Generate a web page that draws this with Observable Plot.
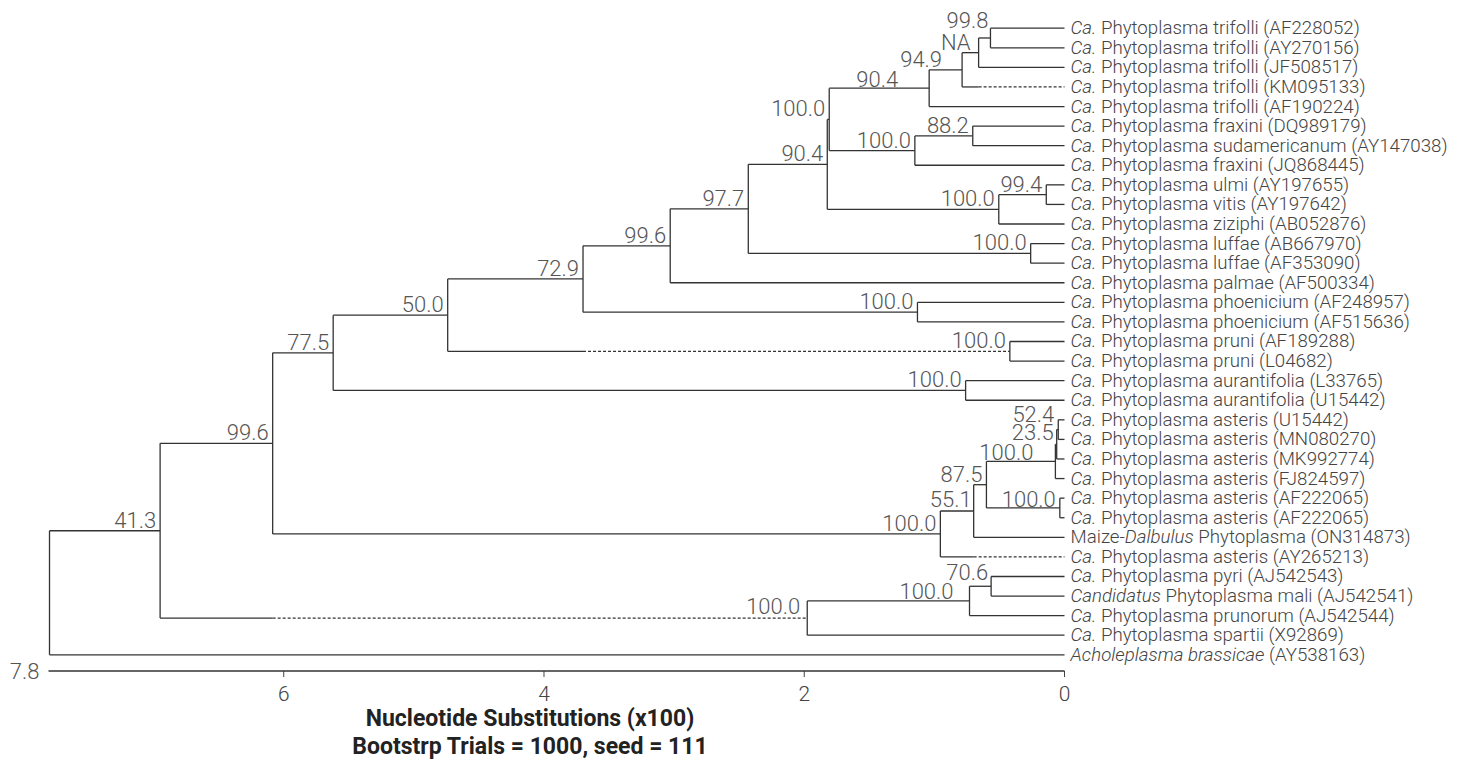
<!DOCTYPE html>
<html><head><meta charset="utf-8">
<script src="https://cdn.jsdelivr.net/npm/d3@7"></script>
<script src="https://cdn.jsdelivr.net/npm/@observablehq/plot@0.6"></script>
<style>
body{margin:0;background:#fff;font-family:Roboto, sans-serif;}
#title{width:1060px;text-align:center;font-family:Roboto, sans-serif;font-weight:bold;font-size:23px;line-height:28px;color:#222;}
</style></head><body>
<div id="chart"></div>
<div id="title">Nucleotide Substitutions (x100)<br>Bootstrp Trials = 1000, seed = 111</div>
<script>
// Leaf labels, top to bottom (_..._ marks italic text)
const leaves = [
  "_Ca._ Phytoplasma trifolli (AF228052)",
  "_Ca._ Phytoplasma trifolli (AY270156)",
  "_Ca._ Phytoplasma trifolli (JF508517)",
  "_Ca._ Phytoplasma trifolli (KM095133)",
  "_Ca._ Phytoplasma trifolli (AF190224)",
  "_Ca._ Phytoplasma fraxini (DQ989179)",
  "_Ca._ Phytoplasma sudamericanum (AY147038)",
  "_Ca._ Phytoplasma fraxini (JQ868445)",
  "_Ca._ Phytoplasma ulmi (AY197655)",
  "_Ca._ Phytoplasma vitis (AY197642)",
  "_Ca._ Phytoplasma ziziphi (AB052876)",
  "_Ca._ Phytoplasma luffae (AB667970)",
  "_Ca._ Phytoplasma luffae (AF353090)",
  "_Ca._ Phytoplasma palmae (AF500334)",
  "_Ca._ Phytoplasma phoenicium (AF248957)",
  "_Ca._ Phytoplasma phoenicium (AF515636)",
  "_Ca._ Phytoplasma pruni (AF189288)",
  "_Ca._ Phytoplasma pruni (L04682)",
  "_Ca._ Phytoplasma aurantifolia (L33765)",
  "_Ca._ Phytoplasma aurantifolia (U15442)",
  "_Ca._ Phytoplasma asteris (U15442)",
  "_Ca._ Phytoplasma asteris (MN080270)",
  "_Ca._ Phytoplasma asteris (MK992774)",
  "_Ca._ Phytoplasma asteris (FJ824597)",
  "_Ca._ Phytoplasma asteris (AF222065)",
  "_Ca._ Phytoplasma asteris (AF222065)",
  "Maize-_Dalbulus_ Phytoplasma (ON314873)",
  "_Ca._ Phytoplasma asteris (AY265213)",
  "_Ca._ Phytoplasma pyri (AJ542543)",
  "_Candidatus_ Phytoplasma mali (AJ542541)",
  "_Ca._ Phytoplasma prunorum (AJ542544)",
  "_Ca._ Phytoplasma spartii (X92869)",
  "_Acholeplasma brassicae_ (AY538163)"
];

// Internal nodes: height (substitutions x100), bootstrap support, children (number = leaf index, string = node id)
const nodes = [
  {id:"root", h:7.80,  support:null,    children:["A", 32]},
  {id:"A",    h:6.95,  support:"41.3",  children:["B", "P"]},
  {id:"B",    h:6.085, support:"99.6",  children:["C", "D"]},
  {id:"C",    h:5.62,  support:"77.5",  children:["E", "X"]},
  {id:"E",    h:4.74,  support:"50.0",  children:["F", "W"]},
  {id:"F",    h:3.70,  support:"72.9",  children:["G", "V"]},
  {id:"G",    h:3.03,  support:"99.6",  children:["H", 13]},
  {id:"H",    h:2.43,  support:"97.7",  children:["I", "U"]},
  {id:"I",    h:1.823, support:"90.4",  children:["J", "S"]},
  {id:"J",    h:1.808, support:"100.0", children:["K", "O"]},
  {id:"K",    h:1.04,  support:"90.4",  children:["L", 4]},
  {id:"L",    h:0.787, support:"94.9",  children:["M", 3]},
  {id:"M",    h:0.66,  support:"NA",    children:["N", 2]},
  {id:"N",    h:0.569, support:"99.8",  children:[0, 1]},
  {id:"O",    h:1.15,  support:"100.0", children:["O2", 7]},
  {id:"O2",   h:0.705, support:"88.2",  children:[5, 6]},
  {id:"S",    h:0.505, support:"100.0", children:["T", 10]},
  {id:"T",    h:0.14,  support:"99.4",  children:[8, 9]},
  {id:"U",    h:0.26,  support:"100.0", children:[11, 12]},
  {id:"V",    h:1.13,  support:"100.0", children:[14, 15]},
  {id:"W",    h:0.42,  support:"100.0", children:[16, 17]},
  {id:"X",    h:0.76,  support:"100.0", children:[18, 19]},
  {id:"D",    h:0.954, support:"100.0", children:["Y", 27]},
  {id:"Y",    h:0.698, support:"55.1",  children:["Z", 26]},
  {id:"Z",    h:0.60,  support:"87.5",  children:["AA", "BB"]},
  {id:"AA",   h:0.07,  support:"100.0", children:["AB", 23]},
  {id:"AB",   h:0.06,  support:"23.5",  children:["AC", 22]},
  {id:"AC",   h:0.048, support:"52.4",  children:[20, 21]},
  {id:"BB",   h:0.036, support:"100.0", children:[24, 25]},
  {id:"P",    h:1.977, support:"100.0", children:["Q", 31]},
  {id:"Q",    h:0.73,  support:"100.0", children:["R", 30]},
  {id:"R",    h:0.564, support:"70.6",  children:[28, 29]}
];

// Branches drawn solid up to solidTo, then dotted to the child
const dotted = [
  {child:3,   solidTo:0.66},
  {child:"W", solidTo:3.70},
  {child:27,  solidTo:0.698},
  {child:"P", solidTo:6.085}
];

const axisTicks = [0, 2, 4, 6];

// label placement (styling): default offset and per-node nudges as in the reference
const labelDefault = {dx:-4, dy:-3};
const labelNudge = {
  N:{dx:-2, dy:-10}, M:{dx:-8, dy:-3}, L:{dx:-20, dy:-3}, K:{dx:-31, dy:-1},
  AC:{dx:-4, dy:-8}, AB:{dx:-3, dy:-4}, AA:{dx:-22, dy:-1}, BB:{dx:-4, dy:-1},
  Q:{dx:-16, dy:-2}, R:{dx:-3, dy:-6}, Y:{dx:-2, dy:-4}, P:{dx:-7, dy:-4}
};

// layout
const byId = new Map(nodes.map(n => [n.id, n]));
function yOf(c) {
  if (typeof c === "number") return c;
  const n = byId.get(c);
  if (n.y == null) n.y = d3.mean(n.children, yOf);
  return n.y;
}
const hOf = c => typeof c === "number" ? 0 : byId.get(c).h;
const solid = [], dashed = [];
for (const n of nodes) {
  const ys = n.children.map(yOf);
  n.y = d3.mean(ys);
  solid.push({x1:n.h, x2:n.h, y1:d3.min(ys), y2:d3.max(ys)});
  for (const c of n.children) {
    const y = yOf(c), h = hOf(c);
    const d = dotted.find(e => e.child === c);
    if (d) {
      solid.push({x1:n.h, x2:d.solidTo, y1:y, y2:y});
      dashed.push({x1:d.solidTo, x2:h, y1:y, y2:y});
    } else solid.push({x1:n.h, x2:h, y1:y, y2:y});
  }
}
const leafRows = leaves.map((s, i) => ({x:0, y:i, text:s.replace(/_/g, "")}));
const supportNodes = nodes.filter(n => n.support != null);

const labelFont = "'Roboto Light', Roboto, sans-serif";
const supportMarks = supportNodes.map(n => {
  const o = labelNudge[n.id] || labelDefault;
  return Plot.text([n], {x:"h", y:"y", text:"support", textAnchor:"end", lineAnchor:"bottom",
    dx:o.dx, dy:o.dy, fontSize:22, fill:"#555", fontWeight:300, fontFamily:labelFont});
});

const chart = Plot.plot({
  width: 1465,
  height: 705,
  marginLeft: 49,
  marginRight: 401,
  marginTop: 20,
  marginBottom: 34,
  style: {fontFamily: labelFont, fontSize: "21px", fontWeight: 300, color: "#444", background: "#fff", overflow: "visible"},
  x: {domain: [7.8, 0], range: [49, 1064], ticks: axisTicks, tickSize: 6, tickPadding: 9, tickFormat: d => String(d), label: null},
  y: {domain: [0, 32], range: [27.7, 654.3], axis: null},
  marks: [
    (index, scales, values, dims) => {
      const l = d3.create("svg:line")
        .attr("x1", scales.x(7.8) - 0.5).attr("x2", scales.x(0) + 0.5)
        .attr("y1", dims.height - dims.marginBottom).attr("y2", dims.height - dims.marginBottom)
        .attr("stroke", "#333").attr("stroke-width", 1.3);
      return l.node();
    },
    Plot.text([7.8], {x: d => d, frameAnchor: "bottom", text: d => String(d), textAnchor: "end", lineAnchor: "middle", dx: -10, fontSize: 22, fill: "#555"}),
    Plot.link(solid, {x1:"x1", y1:"y1", x2:"x2", y2:"y2", stroke:"#333", strokeWidth:1.3}),
    Plot.link(dashed, {x1:"x1", y1:"y1", x2:"x2", y2:"y2", stroke:"#333", strokeWidth:1.3, strokeDasharray:"3,2"}),
    ...supportMarks,
    Plot.text(leafRows, {x:"x", y:"y", text:"text", textAnchor:"start", lineAnchor:"middle", dx:6, fontSize:18.7, fill:"#444", fontWeight:300, fontFamily:labelFont})
  ]
});
document.getElementById("chart").appendChild(chart);

// italic parts of leaf names (leaf labels are the last text mark)
const textGroups = d3.select(chart).selectAll('g[aria-label="text"]').nodes();
const leafGroup = textGroups[textGroups.length - 1];
d3.select(leafGroup).selectAll("text").each(function(_, i) {
  const parts = leaves[i].split("_");
  const t = d3.select(this);
  t.text(null);
  parts.forEach((p, k) => {
    if (p) t.append("tspan").attr("font-style", k % 2 ? "italic" : null).text(p);
  });
});
</script>
</body></html>
